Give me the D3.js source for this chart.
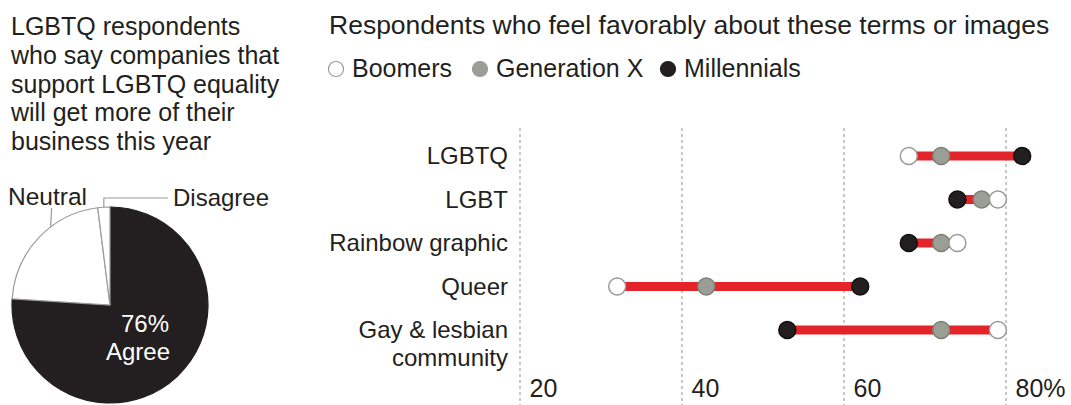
<!DOCTYPE html>
<html>
<head>
<meta charset="utf-8">
<script src="https://cdn.jsdelivr.net/npm/d3@7"></script>
<style>
    body { margin: 0; background: #fff; }
    svg text { font-family: "Liberation Sans", Arial, sans-serif; fill: #231f20; }
</style>
</head>
<body>
<div id="chart"></div>
<script>
// Pie data
var pieLabels = ["Agree", "Neutral", "Disagree"];
var pieValues = [76, 22, 2];

// Dumbbell data
var terms = ["LGBTQ", "LGBT", "Rainbow graphic", "Queer", "Gay & lesbian community"];
var boomers = [68, 79, 74, 32, 79];
var genX = [72, 77, 72, 43, 72];
var millennials = [82, 74, 68, 62, 53];
var xTicks = [20, 40, 60, 80];

var titleLines = ["LGBTQ respondents", "who say companies that", "support LGBTQ equality", "will get more of their", "business this year"];
var chartTitle = "Respondents who feel favorably about these terms or images";

var ink = "#231f20";
var red = "#e3242b";
var grey = "#9b9e94";

var width = 1071, height = 405;
var fs = 23.5;

var svg = d3.select("#chart").append("svg")
    .attr("width", width)
    .attr("height", height);

// ---- left panel: title + pie
svg.append("text")
    .attr("x", 11)
    .attr("y", 35)
    .style("font-size", "25px")
    .selectAll("tspan")
    .data(titleLines)
    .enter()
    .append("tspan")
    .attr("x", 11)
    .attr("dy", function(d, i) { return i == 0 ? 0 : 28.8; })
    .text(function(d) { return d; });

var pieCx = 110, pieCy = 305, pieR = 98;
var pie = d3.pie().sort(null);
var arcs = pie(pieValues);
var arc = d3.arc().innerRadius(0).outerRadius(pieR);

var pieG = svg.append("g")
    .attr("transform", "translate(" + pieCx + "," + pieCy + ")");

pieG.selectAll("path")
    .data(arcs)
    .enter()
    .append("path")
    .attr("d", arc)
    .attr("fill", function(d, i) { return i == 0 ? ink : "#fff"; })
    .attr("stroke", function(d, i) { return i == 0 ? ink : "#9a9a9a"; })
    .attr("stroke-width", 1.2);

// point on the rim at a given angle
function rim(a, r) {
    return [r * Math.sin(a), -r * Math.cos(a)];
}

// Neutral leader: short tick from label down to rim
var nA = arcs[1].startAngle + (arcs[1].endAngle - arcs[1].startAngle) * 0.62;
var nP = rim(nA, pieR);
pieG.append("path")
    .attr("d", "M" + (nP[0] + 1) + "," + (-pieCy + 208) + "L" + nP[0] + "," + nP[1])
    .attr("fill", "none")
    .attr("stroke", "#9a9a9a")
    .attr("stroke-width", 1.2);

// Disagree leader: up from rim then right to label
var dA = (arcs[2].startAngle + arcs[2].endAngle) / 2;
var dP = rim(dA, pieR);
pieG.append("path")
    .attr("d", "M" + dP[0] + "," + dP[1] + "L" + dP[0] + "," + (-pieCy + 198) + "L" + (168 - pieCx) + "," + (-pieCy + 198))
    .attr("fill", "none")
    .attr("stroke", "#9a9a9a")
    .attr("stroke-width", 1.2);

svg.append("text")
    .attr("x", 8)
    .attr("y", 205)
    .style("font-size", "24.5px")
    .text(pieLabels[1]);

svg.append("text")
    .attr("x", 173)
    .attr("y", 206)
    .style("font-size", "24px")
    .text(pieLabels[2]);

svg.append("text")
    .attr("x", 169)
    .attr("y", 332)
    .attr("text-anchor", "end")
    .style("font-size", "24px")
    .style("fill", "#fff")
    .text(pieValues[0] + "%");

svg.append("text")
    .attr("x", 170)
    .attr("y", 360)
    .attr("text-anchor", "end")
    .style("font-size", "24px")
    .style("fill", "#fff")
    .text(pieLabels[0]);

// ---- right panel: title + legend
svg.append("text")
    .attr("x", 329)
    .attr("y", 34)
    .style("font-size", "26.5px")
    .text(chartTitle);

var legend = [
    { name: "Boomers", fill: "#fff", stroke: "#9a9a9a", cx: 336 },
    { name: "Generation X", fill: grey, stroke: grey, cx: 480 },
    { name: "Millennials", fill: ink, stroke: ink, cx: 668 }
];

var legG = svg.selectAll(".leg")
    .data(legend)
    .enter()
    .append("g")
    .attr("class", "leg");

legG.append("circle")
    .attr("cx", function(d) { return d.cx; })
    .attr("cy", 69)
    .attr("r", 7.5)
    .attr("fill", function(d) { return d.fill; })
    .attr("stroke", function(d) { return d.stroke; })
    .attr("stroke-width", 1.2);

legG.append("text")
    .attr("x", function(d) { return d.cx + 16; })
    .attr("y", 77)
    .style("font-size", "25px")
    .text(function(d) { return d.name; });

// ---- dumbbell plot
var x = d3.scaleLinear()
    .domain([20, 80])
    .range([520, 1006]);

var y = d3.scalePoint()
    .domain(terms)
    .range([156, 330]);

// grid
svg.selectAll(".grid")
    .data(xTicks)
    .enter()
    .append("line")
    .attr("class", "grid")
    .attr("x1", function(d) { return x(d); })
    .attr("x2", function(d) { return x(d); })
    .attr("y1", 128)
    .attr("y2", height)
    .attr("stroke", "#a5a5a5")
    .attr("stroke-width", 1.2)
    .attr("stroke-dasharray", "3,3");

var xAxis = d3.axisBottom(x)
    .tickValues(xTicks)
    .tickSize(0)
    .tickFormat(function(d, i) { return i == xTicks.length - 1 ? d + "%" : d; });

var xAxisGroup = svg.append("g")
    .attr("class", "axis x-axis")
    .attr("transform", "translate(0,397)")
    .call(xAxis);

xAxisGroup.select(".domain").remove();
xAxisGroup.selectAll("text")
    .attr("y", 0)
    .attr("dy", 0)
    .attr("x", 9)
    .attr("text-anchor", "start")
    .style("font-size", "25px")
    .style("font-family", "Liberation Sans, Arial, sans-serif")
    .style("fill", ink);

// row labels (last one wraps on two lines)
var rowLabels = svg.selectAll(".rowlab")
    .data(terms)
    .enter()
    .append("text")
    .attr("class", "rowlab")
    .attr("text-anchor", "end")
    .attr("x", 508)
    .attr("y", function(d) { return y(d) + 8; })
    .style("font-size", "24px");

rowLabels.each(function(d) {
    var t = d3.select(this);
    var parts = d == "Gay & lesbian community" ? ["Gay & lesbian", "community"] : [d];
    parts.forEach(function(p, i) {
        t.append("tspan")
            .attr("x", 508)
            .attr("dy", i == 0 ? 0 : 28)
            .text(p);
    });
});

var rows = terms.map(function(t, i) {
    return { term: t, b: boomers[i], g: genX[i], m: millennials[i] };
});

// red bars span min..max
svg.selectAll(".bar")
    .data(rows)
    .enter()
    .append("line")
    .attr("class", "bar")
    .attr("x1", function(d) { return x(Math.min(d.b, d.g, d.m)); })
    .attr("x2", function(d) { return x(Math.max(d.b, d.g, d.m)); })
    .attr("y1", function(d) { return y(d.term); })
    .attr("y2", function(d) { return y(d.term); })
    .attr("stroke", red)
    .attr("stroke-width", 9);

var series = [
    { key: "m", fill: ink, stroke: "#111" },
    { key: "g", fill: grey, stroke: "#7d8078" },
    { key: "b", fill: "#fff", stroke: "#9a9a9a" }
];

series.forEach(function(s) {
    svg.selectAll(".dot-" + s.key)
        .data(rows)
        .enter()
        .append("circle")
        .attr("class", "dot-" + s.key)
        .attr("cx", function(d) { return x(d[s.key]); })
        .attr("cy", function(d) { return y(d.term); })
        .attr("r", 8.5)
        .attr("fill", s.fill)
        .attr("stroke", s.stroke)
        .attr("stroke-width", 1.5);
});
</script>
</body>
</html>
